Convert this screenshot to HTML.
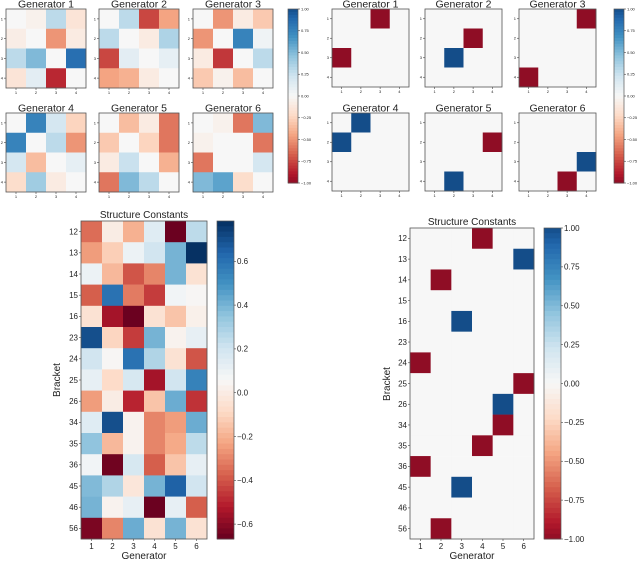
<!DOCTYPE html>
<html><head><meta charset="utf-8"><style>
body{margin:0;background:#fff;width:640px;height:562px;overflow:hidden}
svg{font-family:"Liberation Sans",sans-serif}
</style></head><body>
<svg id="s" width="640" height="562"></svg>
<script>
// ---- data ----
const genLabels = ["Generator 1","Generator 2","Generator 3","Generator 4","Generator 5","Generator 6"];
const matrixTicks = ["1","2","3","4"];
const learnedG1 = [[0,-0.05,0.3,-0.15],[-0.08,0,-0.5,-0.1],[0.3,0.5,0,0.85],[-0.15,0.12,-0.85,0]];
const learnedG2 = [[0,0.3,-0.75,-0.45],[0.3,0,-0.1,0.35],[-0.75,0.12,0,0.1],[-0.45,-0.4,-0.1,0]];
const learnedG3 = [[0,-0.5,-0.1,-0.3],[-0.5,0,0.75,0.05],[-0.1,-0.8,0,0.3],[-0.3,-0.05,-0.35,0]];
const learnedG4 = [[0,0.75,0.2,-0.25],[0.75,0,0.3,-0.5],[0.2,-0.35,0,0.1],[-0.2,0.4,-0.1,0]];
const learnedG5 = [[0,-0.35,-0.1,-0.6],[-0.3,0,-0.25,-0.6],[-0.1,0.25,0,-0.4],[-0.6,0.5,0.3,0]];
const learnedG6 = [[0,-0.05,-0.6,0.5],[-0.05,0,0,-0.6],[-0.6,0,0,0.2],[0.5,0.6,-0.2,0]];
const trueG1 = [[0,0,-1,0],[0,0,0,0],[-1,0,0,0],[0,0,0,0]];
const trueG2 = [[0,0,0,0],[0,0,-1,0],[0,1,0,0],[0,0,0,0]];
const trueG3 = [[0,0,0,-1],[0,0,0,0],[0,0,0,0],[-1,0,0,0]];
const trueG4 = [[0,1,0,0],[1,0,0,0],[0,0,0,0],[0,0,0,0]];
const trueG5 = [[0,0,0,0],[0,0,0,-1],[0,0,0,0],[0,1,0,0]];
const trueG6 = [[0,0,0,0],[0,0,0,0],[0,0,0,1],[0,0,-1,0]];
const brackets = ["12","13","14","15","16","23","24","25","26","34","35","36","45","46","56"];
const generators = ["1","2","3","4","5","6"];
const learnedSC = [
[-0.35,0.0,-0.2,0.15,-0.66,0.25],[-0.25,-0.12,0.1,0.2,0.4,0.78],[0.1,-0.18,-0.4,-0.3,0.4,-0.05],
[-0.38,0.6,-0.32,-0.45,0.08,0.05],[-0.05,-0.55,-0.66,-0.05,-0.15,0.02],[0.7,-0.1,-0.45,0.4,0.03,0.12],
[0.2,0.05,0.6,0.28,-0.05,-0.4],[0.12,-0.08,0.18,-0.55,0.2,0.55],[-0.25,0.0,-0.5,-0.15,0.42,-0.47],
[0.15,0.7,0.03,-0.3,-0.25,0.42],[0.35,-0.18,0.03,-0.3,-0.22,0.25],[0.08,-0.65,0.18,-0.38,-0.15,0.12],
[0.38,0.28,-0.03,0.4,0.65,0.2],[0.4,0.03,0.12,-0.66,0.12,-0.38],[-0.63,-0.3,0.42,-0.05,0.4,-0.05]];
const trueSC = [
[0,0,0,-1,0,0],[0,0,0,0,0,1],[0,-1,0,0,0,0],[0,0,0,0,0,0],[0,0,1,0,0,0],[0,0,0,0,0,0],
[-1,0,0,0,0,0],[0,0,0,0,0,-1],[0,0,0,0,1,0],[0,0,0,0,-1,0],[0,0,0,-1,0,0],[-1,0,0,0,0,0],
[0,0,1,0,0,0],[0,0,0,0,0,0],[0,-1,0,0,0,0]];
const cbTicksSmall = [1,0.75,0.5,0.25,0,-0.25,-0.5,-0.75,-1];
const cbTicksLearned = [0.6,0.4,0.2,0.0,-0.2,-0.4,-0.6];
const cbTicksTrue = [1,0.75,0.5,0.25,0,-0.25,-0.5,-0.75,-1];

const stops=["#67001f","#b2182b","#d6604d","#f4a582","#fddbc7","#f7f7f7","#d1e5f0","#92c5de","#4393c3","#2166ac","#053061"];
function hex(h){return [1,3,5].map(i=>parseInt(h.substr(i,2),16));}
function cmap(t){t=Math.max(0,Math.min(1,t));const p=t*10,i=Math.min(9,Math.floor(p)),f=p-i;
 const a=hex(stops[i]),b=hex(stops[i+1]);return "rgb("+a.map((v,k)=>Math.round(v+(b[k]-v)*f)).join(",")+")";}
const S=document.getElementById('s');const NS="http://www.w3.org/2000/svg";
function el(tag,at,parent){const e=document.createElementNS(NS,tag);for(const k in at)e.setAttribute(k,at[k]);(parent||S).appendChild(e);return e;}
function txt(x,y,s,size,anchor,parent,extra){const t=el('text',Object.assign({x:x,y:y,'font-size':size,'text-anchor':anchor||'middle',fill:'#222'},extra||{}),parent);t.textContent=s;return t;}

function heatmap(name,x0,y0,w,h,data,vmin,vmax,xl,yl,fs,title,tfs,tgap){
 const g=el('g',{});
 
 
 const R=data.length,C=data[0].length,cw=w/C,ch=h/R;
 const xs=c=>x0+c*cw, ys=r=>y0+r*ch;
 data.forEach((row,r)=>row.forEach((v,c)=>{
  const rc=el('rect',{x:xs(c),y:ys(r),width:cw+0.3,height:ch+0.3,fill:cmap((v-vmin)/(vmax-vmin))},g);
  
  
 }));
 el('rect',{x:x0,y:y0,width:w,height:h,fill:'none',stroke:'#555','stroke-width':0.8},g);
 xl.forEach((l,c)=>{el('line',{x1:xs(c)+cw/2,x2:xs(c)+cw/2,y1:y0+h,y2:y0+h+2,stroke:'#444','stroke-width':0.6},g);
  txt(xs(c)+cw/2,y0+h+2+fs,l,fs,'middle',g);});
 yl.forEach((l,r)=>{el('line',{x1:x0-2,x2:x0,y1:ys(r)+ch/2,y2:ys(r)+ch/2,stroke:'#444','stroke-width':0.6},g);
  txt(x0-3,ys(r)+ch/2+fs*0.35,l,fs,'end',g);});
 if(title){const t=txt(x0+w/2,y0-tgap,title,tfs,'middle',g);}
 return g;
}
function colorbar(name,x0,y0,w,h,vmin,vmax,ticks,fs,fmt,cmin,cmax){
 const g=el('g',{});
 
 
 const n=60;for(let i=0;i<n;i++){const v=vmax-(i+0.5)/n*(vmax-vmin);el('rect',{x:x0,y:y0+i*h/n,width:w,height:h/n+0.5,fill:cmap((v-cmin)/(cmax-cmin))},g);}
 el('rect',{x:x0,y:y0,width:w,height:h,fill:'none',stroke:'#555','stroke-width':0.7},g);
 const ys=v=>y0+(vmax-v)/(vmax-vmin)*h;
 ticks.forEach(v=>{const y=ys(v);el('line',{x1:x0+w,x2:x0+w+2,y1:y,y2:y,stroke:'#444','stroke-width':0.6},g);
  txt(x0+w+3,y+fs*0.35,fmt(v),fs,'start',g);});
}
const f2=v=>(v<0?"\u2212":"")+Math.abs(v).toFixed(2);
const f1=v=>(v<0?"\u2212":"")+Math.abs(v).toFixed(1);

const E=1.12; // colour extent for ±1 data
const learned=[learnedG1,learnedG2,learnedG3,learnedG4,learnedG5,learnedG6];
const truth=[trueG1,trueG2,trueG3,trueG4,trueG5,trueG6];
const lx=[6,99,193], rx=[332,425,519], rowY=[9,113];
learned.forEach((m,i)=>heatmap('learned-generator-'+(i+1),lx[i%3],rowY[Math.floor(i/3)],80,79,m,-E,E,matrixTicks,matrixTicks,4,genLabels[i],10.5,1.5));
truth.forEach((m,i)=>heatmap('true-generator-'+(i+1),rx[i%3],rowY[Math.floor(i/3)],77,78,m,-E,E,matrixTicks,matrixTicks,4,genLabels[i],10.5,1.5));
colorbar('learned-generators-colorbar',288,9,10,174,-1,1,cbTicksSmall,4,f2,-E,E);
colorbar('true-generators-colorbar',614,9,10,174,-1,1,cbTicksSmall,4,f2,-E,E);

heatmap('learned-structure-constants',81,221,126,318,learnedSC,-0.668,0.784,generators,brackets,8,'Structure Constants',10,3);
colorbar('learned-sc-colorbar',217,221,17,318,-0.668,0.784,cbTicksLearned,8,f1,-0.668,0.784);
heatmap('true-structure-constants',410,228,124,311,trueSC,-E,E,generators,brackets,8,'Structure Constants',10,3);
colorbar('true-sc-colorbar',544,228,17,311,-1,1,cbTicksTrue,8,f2,-E,E);

[[144,559,'Generator','x-axis-title-left'],[472,559,'Generator','x-axis-title-right']].forEach(a=>{
 const t=txt(a[0],a[1],a[2],10,'middle');});
[[60,380,'y-axis-title-left'],[390,384,'y-axis-title-right']].forEach(a=>{
 const t=txt(a[0],a[1],'Bracket',10,'middle',null,{transform:'rotate(-90 '+a[0]+' '+a[1]+')'});
 });
</script>
</body></html>
